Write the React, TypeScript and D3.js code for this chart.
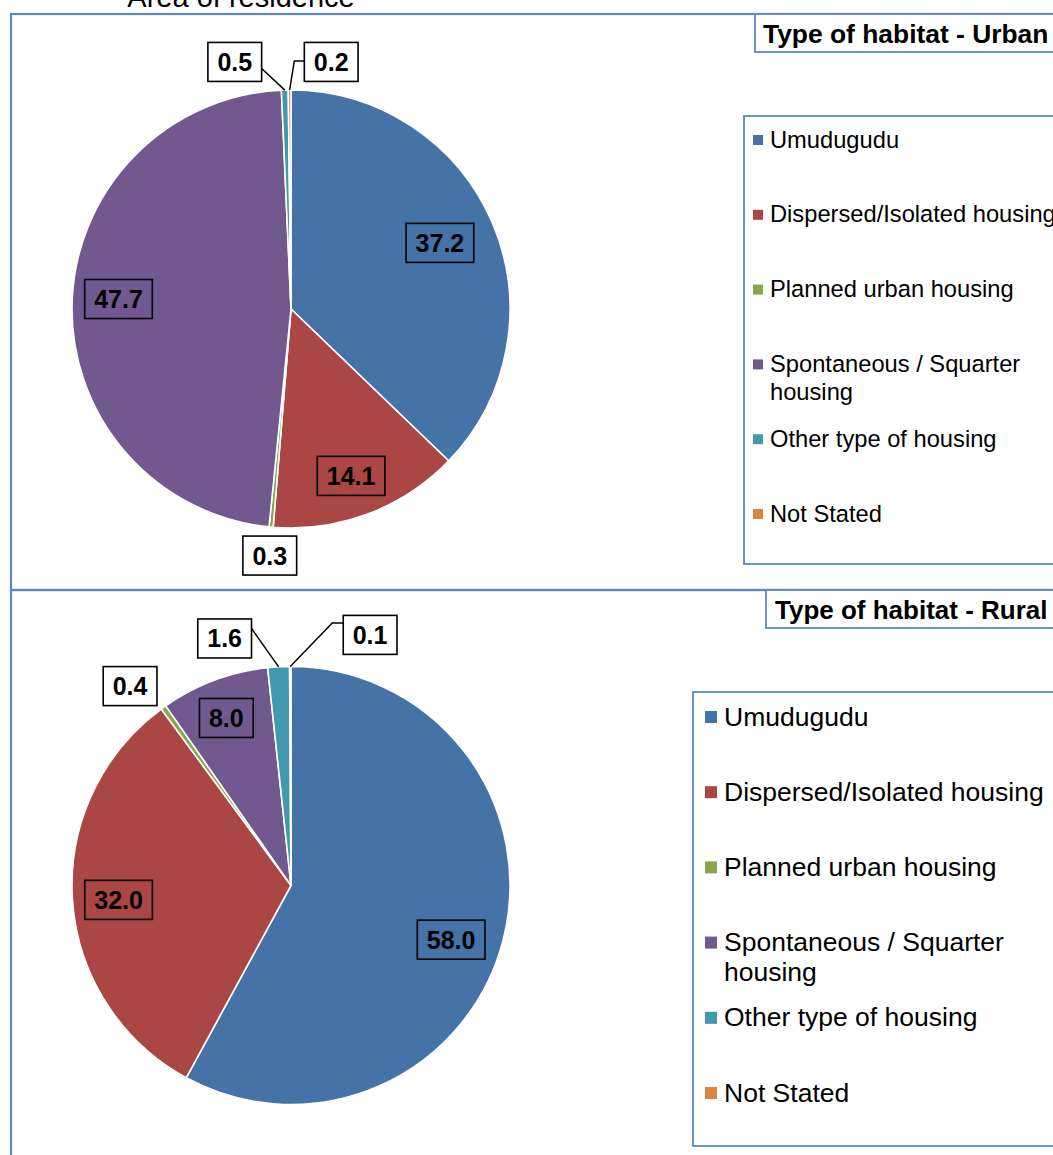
import React from "react";
import * as d3 from "d3";

// ---------- data ----------
const categories = [
  "Umudugudu",
  "Dispersed/Isolated housing",
  "Planned urban housing",
  "Spontaneous / Squarter housing",
  "Other type of housing",
  "Not Stated",
];
const legendLines = [
  ["Umudugudu"],
  ["Dispersed/Isolated housing"],
  ["Planned urban housing"],
  ["Spontaneous / Squarter", "housing"],
  ["Other type of housing"],
  ["Not Stated"],
];
const urbanValues = [37.2, 14.1, 0.3, 47.7, 0.5, 0.2];
const ruralValues = [58.0, 32.0, 0.4, 8.0, 1.6, 0.1];
const sliceColors = ["#4572A7", "#AA4643", "#89A54E", "#71588F", "#4198AF", "#DB843D"];

const mainTitle = "Area of residence";
const urbanTitle = "Type of habitat - Urban";
const ruralTitle = "Type of habitat - Rural";

// ---------- layout ----------
type LabelLayout = { k: number; dA: number; leader?: { ly: number; elbow?: number } };
const urbanLabelLayout: LabelLayout[] = [
  { k: 0.744, dA: -0.9 },
  { k: 0.81, dA: 0.9 },
  { k: 1.13, dA: -0.3 },
  { k: 0.789, dA: 1.7 },
  { k: 1.157, dA: -11.2, leader: { ly: 6.5 } },
  { k: 1.143, dA: 9.6, leader: { ly: -1, elbow: 10 } },
];
const ruralLabelLayout: LabelLayout[] = [
  { k: 0.772, dA: 4.4 },
  { k: 0.79, dA: -0.9 },
  { k: 1.17, dA: -3.3 },
  { k: 0.82, dA: -0.6 },
  { k: 1.168, dA: -11.8, leader: { ly: -10 } },
  { k: 1.2, dA: 17.7, leader: { ly: -12, elbow: 11 } },
];

const W = 1053;
const H = 1155;
const FONT = "Arial, 'Liberation Sans', Helvetica, sans-serif";
const BORDER = "#5B87C5";

function textWidth(s: string, size: number) {
  let w = 0;
  for (const ch of s) w += ch === "." ? 0.278 : 0.556;
  return w * size;
}

type PieProps = {
  values: number[];
  layout: LabelLayout[];
  cx: number;
  cy: number;
  r: number;
};

function Pie({ values, layout, cx, cy, r }: PieProps) {
  const pie = d3
    .pie<number>()
    .sort(null)
    .value((d) => d)
    .startAngle(0)
    .endAngle(2 * Math.PI);
  const arcs = pie(values);
  const arc = d3.arc<d3.PieArcDatum<number>>().innerRadius(0).outerRadius(r);
  const labelSize = 25;
  const boxH = 39;
  const pad = 9.5;
  return (
    <g>
      <g transform={`translate(${cx},${cy})`}>
        {arcs.map((a, i) => (
          <path key={i} d={arc(a) || ""} fill={sliceColors[i]} stroke="#fff" strokeWidth={1.6} />
        ))}
      </g>
      {arcs.map((a, i) => {
        const L = layout[i];
        const mid = (a.startAngle + a.endAngle) / 2;
        const ang = mid + (L.dA * Math.PI) / 180;
        const lx = cx + L.k * r * Math.sin(ang);
        const ly = cy - L.k * r * Math.cos(ang);
        const txt = values[i].toFixed(1);
        const bw = textWidth(txt, labelSize) + 2 * pad;
        const outside = L.k > 1;
        let leader: React.ReactNode = null;
        if (L.leader) {
          const ax = cx + r * Math.sin(mid);
          const ay = cy - r * Math.cos(mid);
          const leftOfAnchor = lx < ax;
          const ex = leftOfAnchor ? lx + bw / 2 : lx - bw / 2;
          const ey = ly + L.leader.ly;
          const pts: [number, number][] = [[ax, ay]];
          if (L.leader.elbow) pts.push([leftOfAnchor ? ex + L.leader.elbow : ex - L.leader.elbow, ey]);
          pts.push([ex, ey]);
          leader = (
            <path d={d3.line()(pts) || ""} fill="none" stroke="#000" strokeWidth={1.5} />
          );
        }
        return (
          <g key={"l" + i}>
            {leader}
            <rect
              x={lx - bw / 2}
              y={ly - boxH / 2}
              width={bw}
              height={boxH}
              fill={outside ? "#fff" : "none"}
              stroke="#000"
              strokeWidth={1.6}
            />
            <text
              x={lx}
              y={ly + labelSize * 0.36}
              textAnchor="middle"
              fontFamily={FONT}
              fontWeight="bold"
              fontSize={labelSize}
              fill="#000"
            >
              {txt}
            </text>
          </g>
        );
      })}
    </g>
  );
}

type LegendProps = {
  x: number;
  y: number;
  h: number;
  firstY: number;
  step: number;
  fontSize: number;
  sq: number;
  sqX: number;
  textX: number;
  lineGap: number;
};

function Legend({ x, y, h, firstY, step, fontSize, sq, sqX, textX, lineGap }: LegendProps) {
  return (
    <g>
      <rect x={x} y={y} width={W - x + 20} height={h} fill="#fff" stroke={BORDER} strokeWidth={1.8} />
      {categories.map((c, i) => {
        const cy = firstY + i * step;
        return (
          <g key={c}>
            <rect x={sqX} y={cy - sq / 2 + 1} width={sq} height={sq} fill={sliceColors[i]} />
            {legendLines[i].map((ln, j) => (
              <text
                key={j}
                x={textX}
                y={cy + j * lineGap + fontSize * 0.36}
                fontFamily={FONT}
                fontSize={fontSize}
                fill="#000"
              >
                {ln}
              </text>
            ))}
          </g>
        );
      })}
    </g>
  );
}

export default function App() {
  return (
    <div style={{ position: "fixed", left: 0, top: 0, width: W, height: H, overflow: "hidden", background: "#fff" }}>
      <svg width={W} height={H} style={{ display: "block" }}>
        <rect width={W} height={H} fill="#fff" />
        <text x={241} y={7} textAnchor="middle" fontFamily={FONT} fontSize={29} fill="#000">
          {mainTitle}
        </text>

        {/* chart frames */}
        <rect x={11} y={14} width={W} height={576} fill="none" stroke={BORDER} strokeWidth={2.2} />
        <rect x={11} y={590} width={W} height={H} fill="none" stroke={BORDER} strokeWidth={2.2} />

        {/* Urban */}
        <Pie values={urbanValues} layout={urbanLabelLayout} cx={291} cy={309} r={219} />
        <rect x={755} y={14} width={W} height={38} fill="#fff" stroke={BORDER} strokeWidth={1.8} />
        <text x={763} y={43} fontFamily={FONT} fontWeight="bold" fontSize={26.4} fill="#000">
          {urbanTitle}
        </text>
        <Legend
          x={744}
          y={116}
          h={448}
          firstY={139}
          step={74.8}
          fontSize={23.7}
          sq={10}
          sqX={753}
          textX={770}
          lineGap={28}
        />

        {/* Rural */}
        <Pie values={ruralValues} layout={ruralLabelLayout} cx={291} cy={885.5} r={219} />
        <rect x={766} y={590} width={W} height={38} fill="#fff" stroke={BORDER} strokeWidth={1.8} />
        <text x={775} y={619} fontFamily={FONT} fontWeight="bold" fontSize={26} fill="#000">
          {ruralTitle}
        </text>
        <Legend
          x={693}
          y={692}
          h={454}
          firstY={716}
          step={75.2}
          fontSize={26.5}
          sq={12}
          sqX={705}
          textX={724}
          lineGap={30}
        />
      </svg>
    </div>
  );
}
